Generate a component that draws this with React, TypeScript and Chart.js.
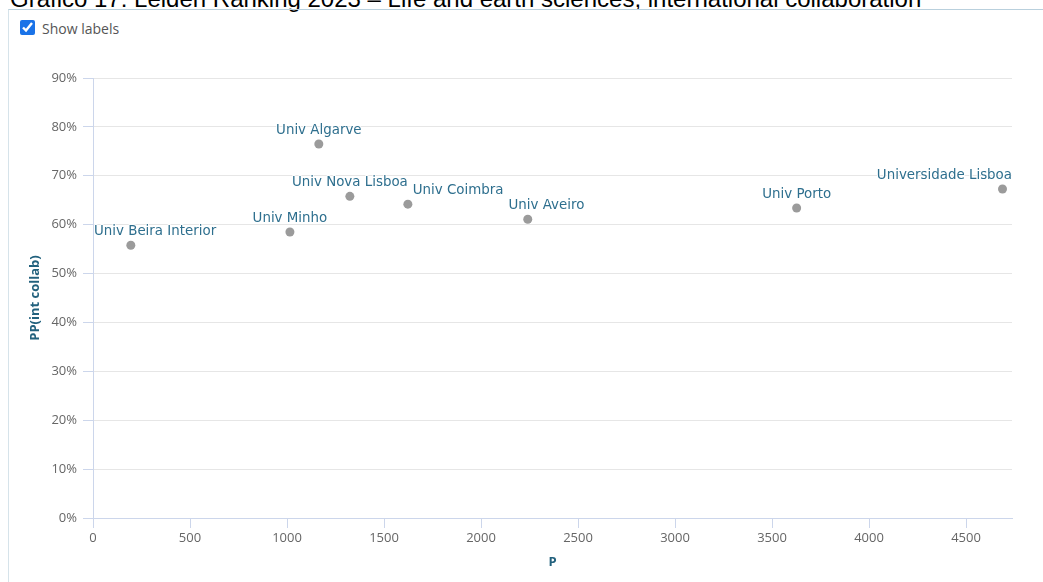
import React, { useEffect, useRef, useState } from "react";
import { Chart, registerables } from "chart.js";

Chart.register(...registerables);

const TITLE = "Gráfico 17: Leiden Ranking 2023 – Life and earth sciences, international collaboration";
const UNIVERSITIES = [
  "Univ Beira Interior",
  "Univ Minho",
  "Univ Algarve",
  "Univ Nova Lisboa",
  "Univ Coimbra",
  "Univ Aveiro",
  "Univ Porto",
  "Universidade Lisboa",
];
const P_VALUES = [195, 1015, 1164, 1324, 1623, 2241, 3627, 4688];
const PP_INT_COLLAB = [55.8, 58.5, 76.5, 65.8, 64.2, 61.1, 63.4, 67.3];
const X_TICKS = [0, 500, 1000, 1500, 2000, 2500, 3000, 3500, 4000, 4500];
const Y_TICKS = [0, 10, 20, 30, 40, 50, 60, 70, 80, 90];
const X_MAX = 4737;

const AXIS_BLUE = "#ccd6eb";
const TITLE_TEAL = "#22617d";
const LABEL_TEAL = "#2e6f8e";

const labelPlugin = {
  id: "pointLabels",
  afterDatasetsDraw(chart: any, _args: any, opts: any) {
    if (!opts || !opts.show) return;
    const { ctx, chartArea } = chart;
    const meta = chart.getDatasetMeta(0);
    ctx.save();
    ctx.font = '13.4px "DejaVu Sans"';
    ctx.textBaseline = "alphabetic";
    ctx.textAlign = "left";
    const placed: { left: number; right: number; top: number; bottom: number }[] = [];
    const order = meta.data
      .map((_p: any, i: number) => i)
      .sort((a: number, b: number) => meta.data[a].x - meta.data[b].x);
    for (const i of order) {
      const p = meta.data[i];
      const text = UNIVERSITIES[i];
      const w = ctx.measureText(text).width;
      let left = p.x - w / 2;
      left = Math.max(chartArea.left + 1, Math.min(left, chartArea.right - w));
      const base = p.y - 10;
      const top = base - 13;
      const bottom = base + 3;
      for (const b of placed) {
        if (left < b.right && left + w > b.left && top < b.bottom && bottom > b.top) {
          left = b.right + 5;
        }
      }
      placed.push({ left, right: left + w, top, bottom });
      ctx.lineJoin = "round";
      ctx.lineWidth = 2;
      ctx.strokeStyle = "rgba(255,255,255,0.9)";
      ctx.strokeText(text, left, base);
      ctx.fillStyle = LABEL_TEAL;
      ctx.fillText(text, left, base);
    }
    ctx.restore();
  },
};

export default function App() {
  const canvasRef = useRef<HTMLCanvasElement | null>(null);
  const [showLabels, setShowLabels] = useState(true);

  useEffect(() => {
    if (!canvasRef.current) return;
    const tickFont = { family: '"Open Sans", sans-serif', size: 13 };
    const titleFont = { family: '"Open Sans", sans-serif', size: 13, weight: "bold" as const };
    const chart = new Chart(canvasRef.current, {
      type: "scatter",
      data: {
        datasets: [
          {
            label: "PP(int collab)",
            data: P_VALUES.map((x, i) => ({ x, y: PP_INT_COLLAB[i] })),
            backgroundColor: "#9b9b9b",
            borderWidth: 0,
            pointRadius: 4.5,
            pointHoverRadius: 5,
          },
        ],
      },
      options: {
        animation: false,
        responsive: false,
        devicePixelRatio: 1,
        layout: { padding: { top: 28, right: 31, left: 0, bottom: 0 } },
        plugins: {
          legend: { display: false },
          tooltip: { enabled: true },
          pointLabels: { show: showLabels },
        } as any,
        scales: {
          x: {
            type: "linear",
            min: 0,
            max: X_MAX,
            afterBuildTicks: (scale: any) => {
              scale.ticks = X_TICKS.map((v) => ({ value: v }));
            },
            afterFit: (scale: any) => {
              scale.height = 64;
            },
            ticks: {
              font: tickFont,
              color: "#666666",
              padding: 2,
              maxRotation: 0,
              callback: (v: any) => String(v),
            },
            grid: { drawOnChartArea: false, tickColor: AXIS_BLUE, tickLength: 10 },
            border: { color: AXIS_BLUE },
            title: {
              display: true,
              text: "P",
              color: TITLE_TEAL,
              font: titleFont,
              padding: { top: 0, bottom: 12 },
            },
          },
          y: {
            type: "linear",
            min: 0,
            max: 90,
            afterBuildTicks: (scale: any) => {
              scale.ticks = Y_TICKS.map((v) => ({ value: v }));
            },
            afterFit: (scale: any) => {
              scale.width = 83;
            },
            ticks: {
              font: tickFont,
              color: "#666666",
              padding: 6,
              callback: (v: any) => v + "%",
            },
            grid: { color: "#e6e6e6", tickColor: AXIS_BLUE, tickLength: 10 },
            border: { color: AXIS_BLUE },
            title: {
              display: true,
              text: "PP(int collab)",
              color: TITLE_TEAL,
              font: titleFont,
              padding: { top: 17, bottom: 0 },
            },
          },
        },
      },
      plugins: [labelPlugin],
    });
    return () => chart.destroy();
  }, [showLabels]);

  return (
    <div
      style={{
        position: "fixed",
        left: 0,
        top: 0,
        width: 1043,
        height: 582,
        overflow: "hidden",
        background: "#ffffff",
      }}
    >
      <div
        style={{
          position: "absolute",
          left: 10,
          top: -13,
          font: '24px "Liberation Sans", Arial, sans-serif',
          lineHeight: "24px",
          whiteSpace: "nowrap",
          color: "#000",
        }}
      >
        {TITLE}
      </div>
      <div
        style={{
          position: "absolute",
          left: 8,
          top: 9,
          right: 0,
          bottom: 0,
          borderTop: "1px solid #b9d0dd",
          borderLeft: "1px solid #d6e3ea",
        }}
      />
      <label
        style={{
          position: "absolute",
          left: 20,
          top: 20,
          height: 15,
          display: "flex",
          alignItems: "center",
          font: '14px "Open Sans", sans-serif',
          color: "#555555",
          cursor: "pointer",
        }}
      >
        <input
          type="checkbox"
          checked={showLabels}
          onChange={(e) => setShowLabels(e.target.checked)}
          style={{ margin: 0, width: 15, height: 15, accentColor: "#1a73e8" }}
        />
        <span style={{ marginLeft: 7, position: "relative", top: 1 }}>Show labels</span>
      </label>
      <canvas
        ref={canvasRef}
        width={1033}
        height={532}
        style={{ position: "absolute", left: 10, top: 50, width: 1033, height: 532 }}
      />
    </div>
  );
}
